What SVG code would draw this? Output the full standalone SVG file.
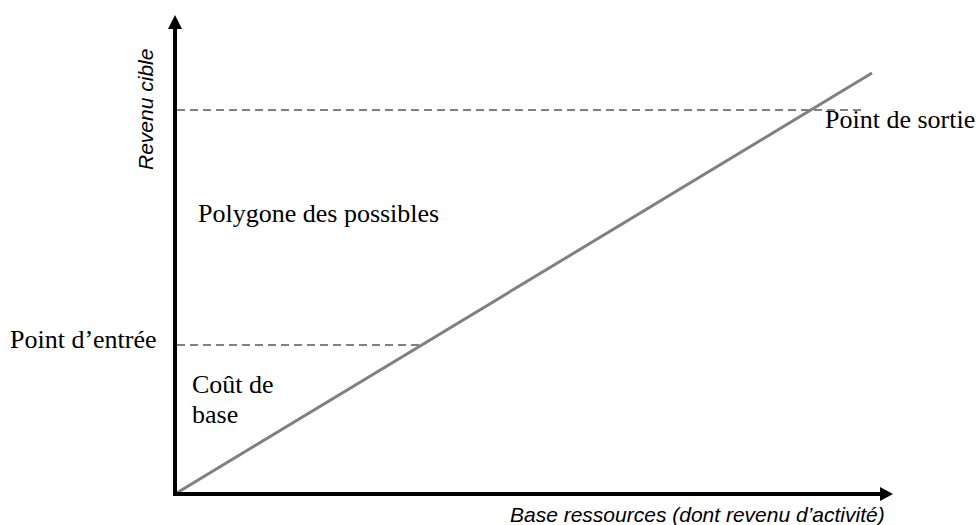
<svg xmlns="http://www.w3.org/2000/svg" width="979" height="525" viewBox="0 0 979 525">
<style>
.lbl{font-family:"Liberation Serif","Times New Roman",serif;font-size:26px;fill:#000}
.ax{font-family:"Liberation Sans",Arial,sans-serif;font-style:italic;font-size:21px;fill:#000}
.dash{stroke:#808080;stroke-width:2;stroke-dasharray:8,5;fill:none}
</style>
<rect width="979" height="525" fill="#fff"/>
<g id="connectors">
<line class="dash" x1="177" y1="110" x2="862" y2="110"/>
<line class="dash" x1="177" y1="345" x2="424" y2="345"/>
<line x1="175" y1="494" x2="872" y2="73" stroke="#808080" stroke-width="3"/>
<line x1="175" y1="495" x2="175" y2="26" stroke="#000" stroke-width="4"/>
<polygon points="175,15 168,29 182,29" fill="#000"/>
<line x1="173" y1="494" x2="882" y2="494" stroke="#000" stroke-width="4"/>
<polygon points="893,494 880,487 880,501" fill="#000"/>
</g>
<g id="y-label"><text class="ax" transform="translate(153,170) rotate(-90)">Revenu cible</text></g>
<g id="x-label"><text class="ax" x="510" y="522">Base ressources (dont revenu d’activité)</text></g>
<g id="sortie"><text class="lbl" x="825" y="128">Point de sortie</text></g>
<g id="polygone"><text class="lbl" x="198" y="222">Polygone des possibles</text></g>
<g id="entree"><text class="lbl" x="10" y="348">Point d’entrée</text></g>
<g id="cout"><text class="lbl" x="192" y="393">Coût de</text><text class="lbl" x="192" y="423">base</text></g>
</svg>
